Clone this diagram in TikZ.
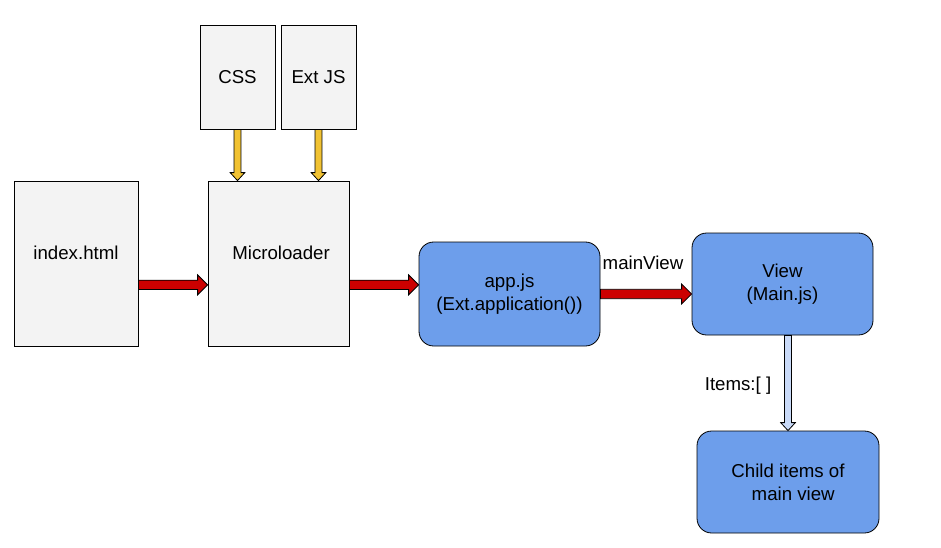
\documentclass[tikz,border=0pt]{standalone}
\usepackage{fontspec}
\setmainfont{Liberation Sans}
\usepackage{tikz}
\usetikzlibrary{calc,positioning}

\definecolor{boxgray}{HTML}{F3F3F3}
\definecolor{boxblue}{HTML}{6D9EEB}
\definecolor{arrred}{HTML}{CC0000}
\definecolor{arryellow}{HTML}{F1C232}
\definecolor{arrblue}{HTML}{C9DAF8}

\tikzset{
  filebox/.style={draw, fill=boxgray, line width=0.6pt, align=center},
  highbox/.style={filebox, text height=10pt, text depth=16.5pt},
  appbox/.style={draw, fill=boxblue, line width=0.6pt, rounded corners=11pt,
    align=center},
  lbl/.style={inner sep=1pt},
  % block arrow: shaft half width / head half width / head length
  blk/.style args={#1/#2/#3}{draw=black, line width=0.6pt, to path={
    let \p1=(\tikztostart), \p2=(\tikztotarget),
        \n1={atan2(\y2-\y1,\x2-\x1)}, \n2={veclen(\x2-\x1,\y2-\y1)} in
    [shift={(\p1)}, rotate=\n1]
    (0pt,-#1) -- ({\n2*1pt-#3},-#1) -- ({\n2*1pt-#3},-#2) -- ({\n2*1pt},0pt)
    -- ({\n2*1pt-#3},#2) -- ({\n2*1pt-#3},#1) -- (0pt,#1) -- cycle}},
}

\begin{document}
\begin{tikzpicture}[x=0.75pt, y=-0.75pt,
  font=\fontsize{14}{17}\selectfont]
  \useasboundingbox (0,0) rectangle (941,547);

  \node[highbox, minimum width=93pt, minimum height=123.75pt]
    (html) at (76,263.5) {index.html};
  \node[filebox, minimum width=56.25pt, minimum height=78pt]
    (css) at (237.5,77) {CSS};
  \node[filebox, minimum width=56.25pt, minimum height=78pt]
    (extjs) at (318.5,77) {Ext JS};
  \node[highbox, minimum width=105.75pt, minimum height=123.75pt]
    (micro) at (278.5,263.5) {\ Microloader};
  \node[appbox, minimum width=135.75pt, minimum height=78pt]
    (app) at (509.5,294) {app.js\\(Ext.application())};
  \node[appbox, minimum width=135.75pt, minimum height=76.5pt]
    (view) at (782.5,284) {View\\(Main.js)};
  \node[appbox, minimum width=136.5pt, minimum height=76.5pt]
    (child) at (788,482) {Child items of\\\ \ main view};

  \node[lbl] (mv) at (643,263) {mainView};
  \node[lbl] (items) at (738,386) {Items:[ ]};

  % anchor points of the arrows
  \coordinate (h1) at ([yshift=-16pt]html.east);
  \coordinate (h2) at (h1 -| micro.west);
  \coordinate (m1) at ([yshift=-16pt]micro.east);
  \coordinate (m2) at (m1 -| app.west);
  \coordinate (a1) at (app.east);
  \coordinate (a2) at (a1 -| view.west);
  \coordinate (c1) at (css.south);
  \coordinate (c2) at (c1 |- micro.north);
  \coordinate (e1) at (extjs.south);
  \coordinate (e2) at (e1 |- micro.north);
  \coordinate (v2) at (child.north);
  \coordinate (v1) at (v2 |- view.south);

  \draw[blk=3.5pt/7.5pt/7.5pt, fill=arrred] (h1) to (h2);
  \draw[blk=3.5pt/7.5pt/7.5pt, fill=arrred] (m1) to (m2);
  \draw[blk=3.5pt/7.5pt/7.5pt, fill=arrred] (a1) to (a2);
  \draw[blk=2.6pt/5.5pt/6pt, fill=arryellow] (c1) to (c2);
  \draw[blk=2.6pt/5.5pt/6pt, fill=arryellow] (e1) to (e2);
  \draw[blk=2.6pt/5.5pt/6pt, fill=arrblue] (v1) to (v2);
\end{tikzpicture}
\end{document}
